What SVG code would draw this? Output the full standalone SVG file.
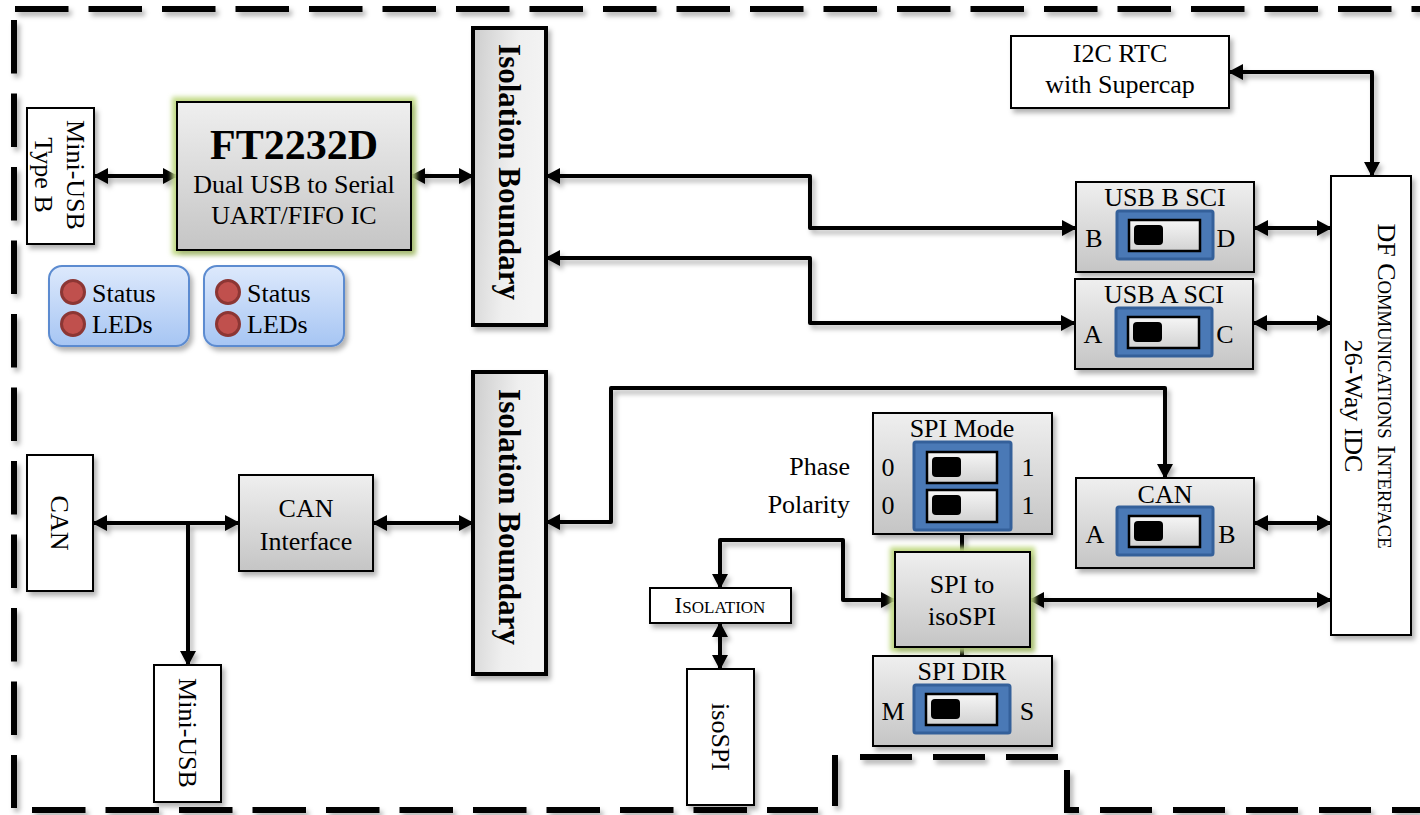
<svg xmlns="http://www.w3.org/2000/svg" width="1420" height="815" viewBox="0 0 1420 815">
<style>
.t{font-family:"Liberation Serif","Times New Roman",serif;font-size:26px;fill:#000}
.c{text-anchor:middle}
.b{font-weight:bold}
.box{stroke:#000;stroke-width:2}
.wh{fill:#fff}
.gr{fill:url(#gGray)}
.conn{fill:none;stroke:#000;stroke-width:4;stroke-linejoin:round}
.arr{marker-start:url(#ah);marker-end:url(#ah)}
.arrE{marker-end:url(#ah)}
.led{fill:#c0504d;stroke:#8c3634;stroke-width:3}
.ledbox{fill:url(#gBlue);stroke:#5b8bd0;stroke-width:2}
.iso{fill:url(#gIso);stroke:#000;stroke-width:4}
</style>
<defs>
<linearGradient id="gGray" x1="0" y1="0" x2="0" y2="1"><stop offset="0" stop-color="#efefef"/><stop offset="1" stop-color="#c5c5c5"/></linearGradient>
<linearGradient id="gIso" x1="0" y1="0" x2="1" y2="0.25"><stop offset="0" stop-color="#cdcdcd"/><stop offset="0.6" stop-color="#efefef"/><stop offset="1" stop-color="#f4f4f4"/></linearGradient>
<linearGradient id="gBlue" x1="0" y1="0" x2="0" y2="1"><stop offset="0" stop-color="#dde9fc"/><stop offset="1" stop-color="#a6c5f3"/></linearGradient>
<linearGradient id="gSw" x1="0" y1="0" x2="0" y2="1"><stop offset="0" stop-color="#f6f6f6"/><stop offset="1" stop-color="#d2d2d2"/></linearGradient>
<filter id="sh" filterUnits="userSpaceOnUse" x="0" y="0" width="1420" height="815">
<feDropShadow dx="3" dy="4" stdDeviation="2.5" flood-color="#000" flood-opacity="0.3"/>
</filter>
<filter id="glow" filterUnits="userSpaceOnUse" x="0" y="0" width="1420" height="815">
<feMorphology in="SourceAlpha" operator="dilate" radius="4" result="d"/>
<feGaussianBlur in="d" stdDeviation="2.5" result="bl"/>
<feFlood flood-color="#c2da86"/>
<feComposite in2="bl" operator="in" result="g"/>
<feDropShadow in="SourceGraphic" dx="3" dy="4" stdDeviation="2.5" flood-color="#000" flood-opacity="0.3" result="s"/>
<feMerge><feMergeNode in="g"/><feMergeNode in="s"/></feMerge>
</filter>
<marker id="ah" viewBox="0 0 15 16" refX="14" refY="8" markerWidth="15" markerHeight="16" markerUnits="userSpaceOnUse" orient="auto-start-reverse"><path d="M0,0 L15,8 L0,16 Z" fill="#000"/></marker>
<g id="sw">
<rect x="0" y="0" width="96" height="48" rx="2" fill="#4a79b6" stroke="#34609a" stroke-width="3"/>
<rect x="12" y="9" width="71" height="31" fill="url(#gSw)" stroke="#000" stroke-width="2.5"/>
<rect x="17" y="14" width="29" height="20" rx="4" fill="#000"/>
</g>
</defs>
<rect width="1420" height="815" fill="#fff"/>

<g id="border" filter="url(#sh)" stroke="#000" stroke-width="6" fill="none">
<line x1="15" y1="9" x2="1420" y2="9" stroke-dasharray="53.5 20"/>
<line x1="14" y1="20" x2="14" y2="808" stroke-dasharray="53.5 20"/>
<line x1="32" y1="810" x2="818" y2="810" stroke-dasharray="53.5 20"/>
<line x1="835" y1="755" x2="835" y2="806"/>
<line x1="860" y1="757" x2="1060" y2="757" stroke-dasharray="52 21"/>
<path d="M1067,770 V810 H1079"/>
<line x1="1100" y1="810" x2="1420" y2="810" stroke-dasharray="52 21"/>
</g>

<g id="connectors" filter="url(#sh)">
<path class="conn arr" d="M94,176 H177"/>
<path class="conn arr" d="M411,176 H473"/>
<path class="conn arr" d="M546,176 H810 V228 H1076"/>
<path class="conn arr" d="M546,258 H810 V323 H1075"/>
<path class="conn arr" d="M1254,228 H1331"/>
<path class="conn arr" d="M1253,323 H1331"/>
<path class="conn arr" d="M1229,72 H1372 V176"/>
<path class="conn arr" d="M93,523 H239"/>
<path class="conn arrE" d="M188,523 V665"/>
<path class="conn arr" d="M373,523 H473"/>
<path class="conn arr" d="M546,522 H611 V388 H1165 V478"/>
<path class="conn arr" d="M1254,523 H1331"/>
<path class="conn" d="M962,534 V552"/>
<path class="conn" d="M962,647 V656"/>
<path class="conn arr" d="M1030,600 H1331"/>
<path class="conn arr" d="M720,588 V540 H843 V600 H895"/>
<path class="conn arr" d="M720,623 V669"/>
</g>

<g id="mini-usb-b">
<rect class="box wh" x="27" y="108" width="67" height="136" filter="url(#sh)"/>
<text class="t c" transform="translate(67,175) rotate(90)">Mini-USB</text>
<text class="t c" transform="translate(35,175) rotate(90)">Type B</text>
</g>

<g id="ft2232d">
<rect class="box gr" x="177" y="102" width="234" height="148" filter="url(#glow)"/>
<text class="t c b" x="294" y="159" style="font-size:42px">FT2232D</text>
<text class="t c" x="294" y="193">Dual USB to Serial</text>
<text class="t c" x="294" y="224">UART/FIFO IC</text>
</g>

<g id="status-leds-1">
<rect class="ledbox" x="49" y="266" width="140" height="80" rx="13" filter="url(#sh)"/>
<circle class="led" cx="73" cy="292" r="11.5"/>
<circle class="led" cx="73" cy="324" r="11.5"/>
<text class="t" x="92" y="302">Status</text>
<text class="t" x="92" y="333">LEDs</text>
</g>

<g id="status-leds-2">
<rect class="ledbox" x="204" y="266" width="140" height="80" rx="13" filter="url(#sh)"/>
<circle class="led" cx="228" cy="292" r="11.5"/>
<circle class="led" cx="228" cy="324" r="11.5"/>
<text class="t" x="247" y="302">Status</text>
<text class="t" x="247" y="333">LEDs</text>
</g>

<g id="isolation-boundary-1">
<rect class="iso" x="473" y="28" width="73" height="297" filter="url(#sh)"/>
<text class="t c b" style="font-size:31px" transform="translate(499,172) rotate(90)">Isolation Boundary</text>
</g>

<g id="isolation-boundary-2">
<rect class="iso" x="473" y="372" width="73" height="302" filter="url(#sh)"/>
<text class="t c b" style="font-size:31px" transform="translate(499,517) rotate(90)">Isolation Boundary</text>
</g>

<g id="i2c-rtc">
<rect class="box wh" x="1011" y="36" width="218" height="72" filter="url(#sh)"/>
<text class="t c" x="1120" y="62">I2C RTC</text>
<text class="t c" x="1120" y="93">with Supercap</text>
</g>

<g id="usb-b-sci">
<rect class="box gr" x="1076" y="182" width="178" height="90" filter="url(#sh)"/>
<text class="t c" x="1165" y="206">USB B SCI</text>
<use href="#sw" x="1117" y="211"/>
<text class="t c" x="1094" y="247">B</text>
<text class="t c" x="1226" y="247">D</text>
</g>

<g id="usb-a-sci">
<rect class="box gr" x="1075" y="279" width="178" height="90" filter="url(#sh)"/>
<text class="t c" x="1164" y="303">USB A SCI</text>
<use href="#sw" x="1116" y="308"/>
<text class="t c" x="1093" y="343">A</text>
<text class="t c" x="1225" y="343">C</text>
</g>

<g id="df-interface">
<rect class="box wh" x="1331" y="176" width="80" height="459" filter="url(#sh)"/>
<text class="t c" transform="translate(1378,386) rotate(90)">DF C<tspan style="font-size:18.6px">OMMUNICATIONS</tspan> I<tspan style="font-size:18.6px">NTERFACE</tspan></text>
<text class="t c" transform="translate(1345,406) rotate(90)">26-Way  IDC</text>
</g>

<g id="can-connector">
<rect class="box wh" x="27" y="455" width="66" height="136" filter="url(#sh)"/>
<text class="t c" transform="translate(51,523) rotate(90)">CAN</text>
</g>

<g id="can-interface">
<rect class="box gr" x="239" y="475" width="134" height="96" filter="url(#sh)"/>
<text class="t c" x="306" y="517">CAN</text>
<text class="t c" x="306" y="550">Interface</text>
</g>

<g id="mini-usb">
<rect class="box wh" x="154" y="665" width="67" height="137" filter="url(#sh)"/>
<text class="t c" transform="translate(179,733) rotate(90)">Mini-USB</text>
</g>

<g id="spi-mode">
<rect class="box gr" x="873" y="413" width="179" height="121" filter="url(#sh)"/>
<text class="t c" x="962" y="437">SPI Mode</text>
<rect x="914" y="442" width="97" height="88" rx="2" fill="#4a79b6" stroke="#34609a" stroke-width="3"/>
<rect x="927" y="452" width="70" height="31" fill="url(#gSw)" stroke="#000" stroke-width="2.5"/>
<rect x="932" y="457" width="29" height="20" rx="4" fill="#000"/>
<rect x="927" y="490" width="70" height="32" fill="url(#gSw)" stroke="#000" stroke-width="2.5"/>
<rect x="932" y="495" width="29" height="20" rx="4" fill="#000"/>
<text class="t c" x="888" y="476">0</text>
<text class="t c" x="888" y="514">0</text>
<text class="t c" x="1028" y="476">1</text>
<text class="t c" x="1028" y="514">1</text>
<text class="t" x="850" y="475" text-anchor="end">Phase</text>
<text class="t" x="850" y="513" text-anchor="end">Polarity</text>
</g>

<g id="spi-to-isospi">
<rect class="box gr" x="895" y="552" width="135" height="95" filter="url(#glow)"/>
<text class="t c" x="962" y="593">SPI to</text>
<text class="t c" x="962" y="625">isoSPI</text>
</g>

<g id="spi-dir">
<rect class="box gr" x="873" y="656" width="179" height="90" filter="url(#sh)"/>
<text class="t c" x="962" y="680">SPI DIR</text>
<use href="#sw" x="914" y="685"/>
<text class="t c" x="893" y="720">M</text>
<text class="t c" x="1027" y="720">S</text>
</g>

<g id="can-switch">
<rect class="box gr" x="1076" y="478" width="178" height="90" filter="url(#sh)"/>
<text class="t c" x="1165" y="503">CAN</text>
<use href="#sw" x="1117" y="507"/>
<text class="t c" x="1095" y="543">A</text>
<text class="t c" x="1227" y="543">B</text>
</g>

<g id="isolation">
<rect class="box wh" x="650" y="588" width="141" height="35" filter="url(#sh)"/>
<text class="t c" x="720" y="613" style="font-size:23px">I<tspan style="font-size:17px">SOLATION</tspan></text>
</g>

<g id="isospi">
<rect class="box wh" x="687" y="669" width="67" height="136" filter="url(#sh)"/>
<text class="t c" transform="translate(712,737) rotate(90)">isoSPI</text>
</g>
</svg>
